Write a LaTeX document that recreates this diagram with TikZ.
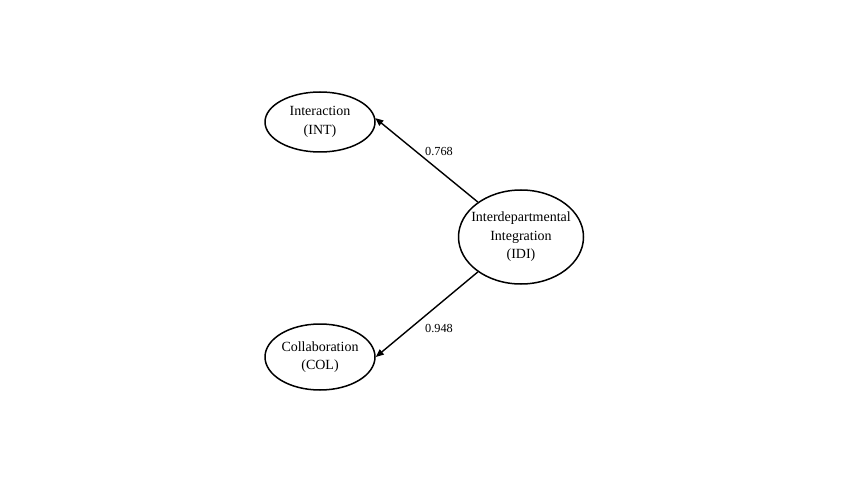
\documentclass[tikz,border=0pt]{standalone}
\usepackage{fontspec}
\setmainfont{Liberation Serif}
\usetikzlibrary{shapes.geometric,arrows.meta}
\begin{document}
\begin{tikzpicture}[x=1pt,y=-1pt,
  lv/.style={draw=black,line width=1.5pt,ellipse,inner xsep=-8pt,inner ysep=0pt,font=\fontsize{14}{18.5}\selectfont,align=center},
  path/.style={-{Triangle[length=8pt,width=6.5pt]},line width=1.4pt},
  coef/.style={font=\fontsize{12.3}{14}\selectfont}]
\useasboundingbox (0,0) rectangle (850,478);
\node[lv,minimum width=110pt,minimum height=60pt] (int) at (320,122) {Interaction\\(INT)};
\node[lv,minimum width=110pt,minimum height=66pt] (col) at (320,357) {Collaboration\\(COL)};
\node[lv,minimum width=125pt,minimum height=94pt] (idi) at (521,237) {Interdepartmental\\Integration\\(IDI)};
\draw[path] (idi.141) -- (int.4);
\draw[path] (idi.219) -- (col.east);
\node[coef] (l1) at (439,151) {0.768};
\node[coef] (l2) at (439,328) {0.948};
\end{tikzpicture}
\end{document}
